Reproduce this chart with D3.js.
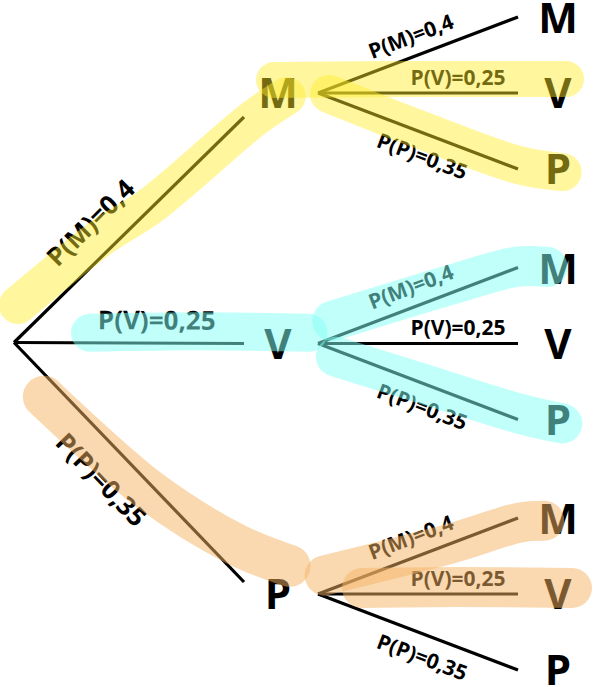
<!DOCTYPE html>
<html lang="fr">
<head>
<meta charset="utf-8">
<title>Arbre de probabilités</title>
<script src="https://cdnjs.cloudflare.com/ajax/libs/d3/7.8.5/d3.min.js"></script>
<style>
  body { margin: 0; background: #fff; }
  svg { display: block; }
  .branch { stroke: #000; stroke-width: 3.2px; fill: none; }
  .prob { font-family: "Open Sans", sans-serif; font-weight: 700; fill: #000; }
  .node { font-family: "Open Sans", sans-serif; font-weight: 700; font-size: 42px; fill: #000; }
  .band { fill: none; stroke-linecap: round; stroke-linejoin: round; }
</style>
</head>
<body>
<svg id="tree" width="593" height="687"></svg>
<script>
// data
const outcomes = ["M", "V", "P"];
const probs = [0.4, 0.25, 0.35];
// highlighted paths : first draw, and (first, second) pairs
const hlFirst = ["M", "V", "P"];
const hlPairs = [["M", "V"], ["M", "P"], ["V", "M"], ["V", "P"], ["P", "M"], ["P", "V"]];

// layout
const x = d3.scaleLinear().domain([0, 1, 2]).range([14, 278, 558]);
const yNode = d3.scalePoint().domain(outcomes).range([93, 594]);
const yLeaf = d3.scalePoint().domain(outcomes).range([-76, 76]);
const rootY = yNode("V") - 1;
const endNudge = {M: 24, V: 0, P: -12};

const hlColor = d3.scaleOrdinal().domain(outcomes).range(["rgb(255,236,40)", "rgb(130,255,245)", "rgb(245,180,100)"]);
const hlOpacity = {M: 0.45, V: 0.5, P: 0.5};

const fr = d3.formatLocale({decimal: ",", thousands: ".", grouping: [3], currency: ["", " €"]});
const fmt = fr.format("~g");
const pOf = o => probs[outcomes.indexOf(o)];
const label = o => "P(" + o + ")=" + fmt(pOf(o));

// label placement along a branch : [t along, offset normal]
const labelL1 = {M: [0.43, 32], V: [0.62, 23], P: [0.48, -32]};
const labelL2 = {M: [0.5, 20], V: [0.7, 16], P: [0.56, -22]};

// highlighter strokes, in branch coordinates
const bandsL1 = {
  M: {w: 38, pts: [[0.09, 24], [0.42, 14], [0.6, 2], [1.02, -8], [1.14, -15]]},
  V: {w: 38, pts: [[0.33, 10], [0.8, 12], [1.28, 11]]},
  P: {w: 42, pts: [[0.18, -16], [0.6, -5], [0.9, 20], [1.06, 44]]}
};
const bandsL2 = {
  MV: {w: 36, pts: [[-0.22, 13], [0.5, 14], [1.24, 14]]},
  MP: {w: 38, pts: [[0.05, 3], [0.5, 2], [1.0, 4], [1.2, 13]]},
  VM: {w: 40, pts: [[0.1, 16], [0.66, 8], [1.0, 1], [1.13, -10]]},
  VP: {w: 40, pts: [[0.1, -6], [0.55, 0], [1.0, 6], [1.2, 12]]},
  PM: {w: 40, pts: [[0.06, 15], [0.66, 0], [1.0, -5], [1.11, -12]]},
  PV: {w: 40, pts: [[0.22, 6], [0.7, 7], [1.27, 6]]}
};

function branchL1(o) {
  return {x0: x(0), y0: rootY, x1: x(1) - 34, y1: yNode(o) + endNudge[o]};
}
function branchL2(a, b) {
  return {x0: x(1) + 40, y0: yNode(a), x1: x(2) - 40, y1: yNode(a) + yLeaf(b)};
}
// point at t along the branch, n pixels off it (n > 0 : left of travel)
function at(br, t, n) {
  const dx = br.x1 - br.x0, dy = br.y1 - br.y0, L = Math.hypot(dx, dy);
  return [br.x0 + t * dx + n * dy / L, br.y0 + t * dy - n * dx / L];
}
const angle = br => Math.atan2(br.y1 - br.y0, br.x1 - br.x0) * 180 / Math.PI;

const svg = d3.select("#tree");
const gLines = svg.append("g");
const gText = svg.append("g");
const gHl = svg.append("g");

const level1 = outcomes.map(o => ({o, br: branchL1(o), lab: labelL1[o], size: 26}));
const level2 = [];
outcomes.forEach(a => outcomes.forEach(b => {
  level2.push({a, o: b, br: branchL2(a, b), lab: labelL2[b], size: 21});
}));
const all = level1.concat(level2);

gLines.selectAll("line").data(all).join("line")
  .attr("class", "branch")
  .attr("x1", d => d.br.x0).attr("y1", d => d.br.y0)
  .attr("x2", d => d.br.x1).attr("y2", d => d.br.y1);

gText.selectAll("text.prob").data(all).join("text")
  .attr("class", "prob")
  .attr("font-size", d => d.size)
  .attr("text-anchor", "middle")
  .attr("dy", "0.36em")
  .attr("transform", d => {
    const p = at(d.br, d.lab[0], d.lab[1]);
    return "translate(" + p[0] + "," + p[1] + ") rotate(" + angle(d.br) + ")";
  })
  .text(d => label(d.o));

// node letters
gText.selectAll("text.n1").data(outcomes).join("text")
  .attr("class", "node n1")
  .attr("text-anchor", "middle")
  .attr("dy", "0.36em")
  .attr("x", x(1)).attr("y", d => yNode(d))
  .text(d => d);

gText.selectAll("text.n2").data(level2).join("text")
  .attr("class", "node n2")
  .attr("text-anchor", "middle")
  .attr("dy", "0.36em")
  .attr("x", x(2)).attr("y", d => yNode(d.a) + yLeaf(d.o) + (d.o === "M" ? 1 : 0))
  .text(d => d.o);

// highlighter on top
const bandLine = d3.line().curve(d3.curveCatmullRom.alpha(0.5));
const bands = hlFirst.map(a => ({c: a, br: branchL1(a), shape: bandsL1[a]}))
  .concat(hlPairs.map(([a, b]) => ({c: a, br: branchL2(a, b), shape: bandsL2[a + b]})));

gHl.selectAll("path").data(bands).join("path")
  .attr("class", "band")
  .attr("stroke", d => hlColor(d.c))
  .attr("stroke-width", d => d.shape.w)
  .attr("opacity", d => hlOpacity[d.c])
  .attr("d", d => bandLine(d.shape.pts.map(([t, n]) => at(d.br, t, n))));
</script>
</body>
</html>
